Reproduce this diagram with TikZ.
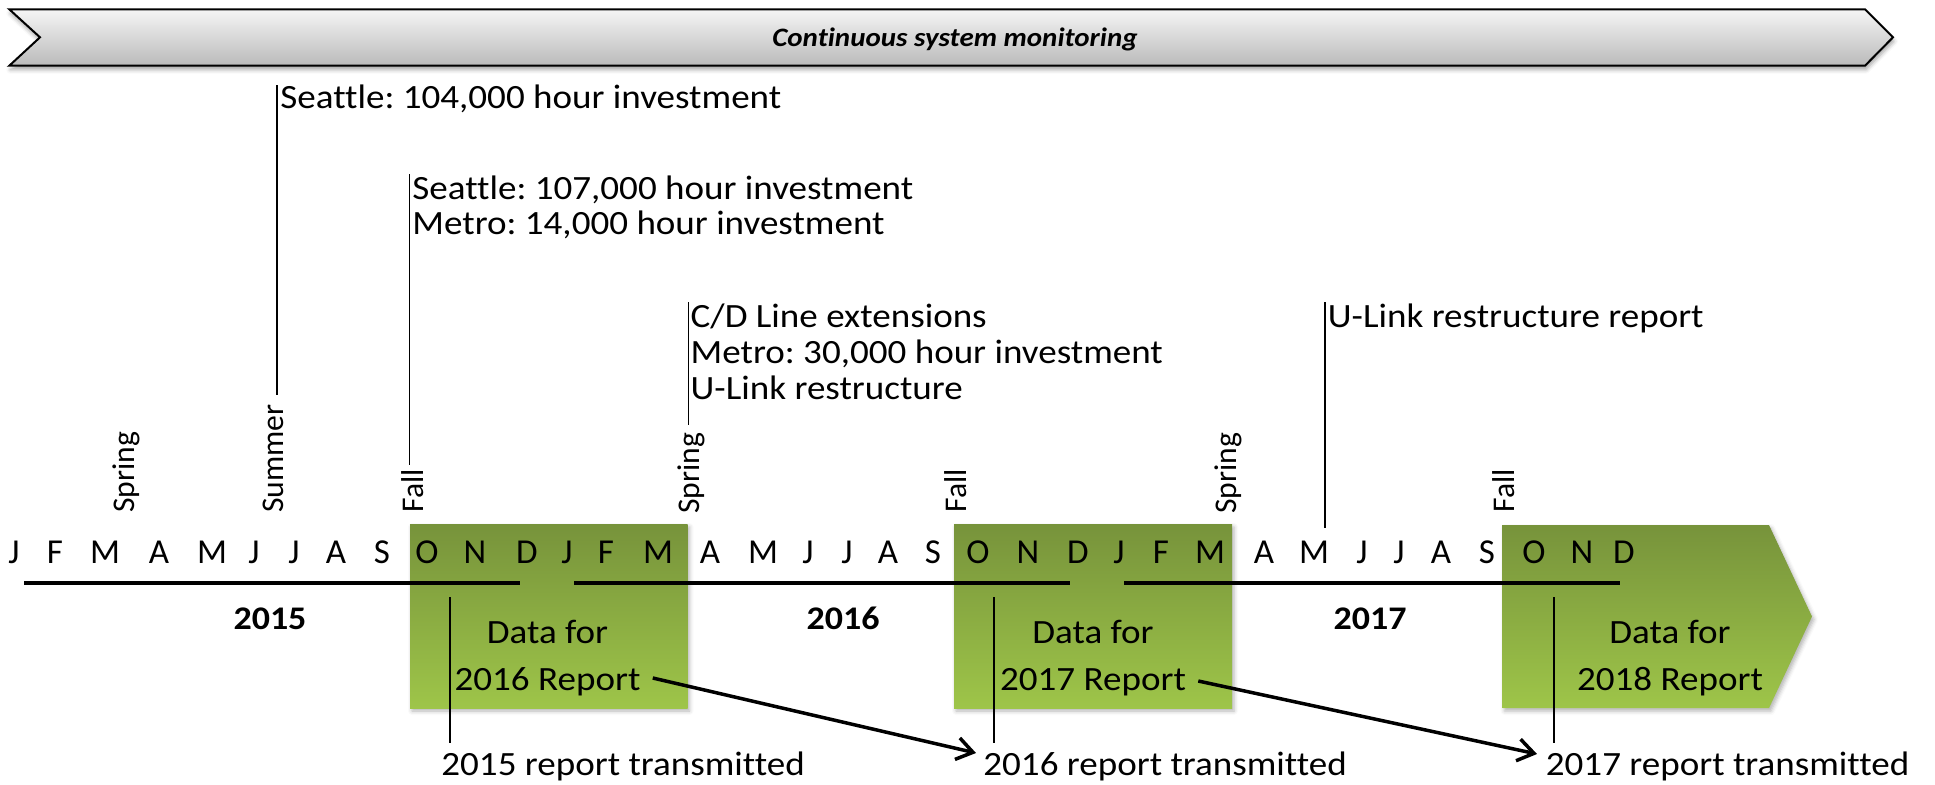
\documentclass[tikz,border=0pt]{standalone}
\usepackage{fontspec}
\setmainfont{Carlito}[FakeStretch=1.09, Ligatures=NoCommon]
\newfontfamily\plainfont{Carlito}[Ligatures=NoCommon]
\usetikzlibrary{arrows.meta,shadows.blur}
\definecolor{boxtop}{RGB}{119,147,59}
\definecolor{boxbot}{RGB}{158,197,73}
\frenchspacing
\begin{document}
\frenchspacing
\begin{tikzpicture}[x=0.5pt,y=-0.5pt,
  txt/.style={inner sep=0pt, anchor=base west, font=\fontsize{17}{17}\selectfont},
  boxtxt/.style={inner sep=0pt, anchor=base, font=\fontsize{17}{17}\selectfont},
  yr/.style={inner sep=0pt, anchor=base, font=\fontsize{16.5}{16.5}\selectfont\bfseries},
  mon/.style={inner sep=0pt, anchor=base, font=\plainfont\fontsize{17.5}{17.5}\selectfont},
  season/.style={inner sep=0pt, rotate=90, anchor=base west, font=\plainfont\fontsize{15.8}{15.8}\selectfont},
  databox/.style={top color=boxtop, bottom color=boxbot,
    blur shadow={shadow xshift=1pt, shadow yshift=-1.5pt, shadow blur radius=2pt, shadow opacity=30}},
  banner/.style={draw=black, line width=1pt, top color=black!4, bottom color=black!27,
    blur shadow={shadow xshift=0.5pt, shadow yshift=-2pt, shadow blur radius=2pt, shadow opacity=35}},
  bar/.style={line width=2pt},
  vline/.style={line width=0.7pt},
  arr/.style={line width=1.75pt, -{Straight Barb[length=8pt,width=11pt]}}]
\useasboundingbox (0,0) rectangle (1935,784);

% banner
\path[banner] (9.3,9.3) -- (1865,9.3) -- (1893,37.3) -- (1865,65.7) -- (9.3,65.7) -- (40,37.3) -- cycle;
\node[inner sep=0pt, anchor=base, font=\fontsize{13.3}{13.3}\selectfont\bfseries\itshape] (title) at (955,46.5) {Continuous system monitoring};

% data boxes
\path[databox] (410,524) rectangle (687.5,708);
\path[databox] (954,524) rectangle (1232,708);
\path[databox] (1502.5,525) -- (1769,525) -- (1812,616.5) -- (1769,708) -- (1502.5,708) -- cycle;

% year bars
\coordinate (b1s) at (24,582.5);   \coordinate (b1e) at (520,582.5);
\coordinate (b2s) at (574,582.5);  \coordinate (b2e) at (1070,582.5);
\coordinate (b3s) at (1124,582.5); \coordinate (b3e) at (1620,582.5);
\draw[bar] (b1s) -- (b1e);
\draw[bar] (b2s) -- (b2e);
\draw[bar] (b3s) -- (b3e);

% months
\foreach \m/\x [count=\i] in {J/14,F/55,M/105,A/159,M/212,J/254,J/294,A/336,S/382,O/427,N/475,D/527,
  J/567,F/606,M/658,A/710,M/763,J/808,J/847,A/888,S/933,O/978,N/1028,D/1078,
  J/1119,F/1161,M/1210,A/1264,M/1314,J/1362,J/1399,A/1441,S/1487,O/1534,N/1582,D/1624}
  \node[mon] (mon\i) at (\x,563) {\m};

% years
\node[yr] (y15) at (270,629) {2015};
\node[yr] (y16) at (843,629) {2016};
\node[yr] (y17) at (1370,629) {2017};

% seasons
\node[season] (sp15) at (134,513) {Spring};
\node[season] (su15) at (283.5,513) {Summer};
\node[season] (fa15) at (423,513) {Fall};
\node[season] (sp16) at (699,514) {Spring};
\node[season] (fa16) at (966,513) {Fall};
\node[season] (sp17) at (1236,514) {Spring};
\node[season] (fa17) at (1514,513) {Fall};

% events
\node[txt] (ev1) at (280,108) {Seattle: 104,000 hour investment};
\node[txt] (ev2a) at (412,199) {Seattle: 107,000 hour investment};
\node[txt] (ev2b) at (412,234) {Metro: 14,000 hour investment};
\node[txt] (ev3a) at (690.3,327) {C/D Line extensions};
\node[txt] (ev3b) at (690.3,363) {Metro: 30,000 hour investment};
\node[txt] (ev3c) at (690.3,399) {U-Link restructure};
\node[txt] (ev4) at (1327.5,327) {U-Link restructure report};

\coordinate (l1t) at (277,85);    \coordinate (l1b) at (277,395);
\coordinate (l2t) at (409.5,174); \coordinate (l2b) at (409.5,465);
\coordinate (l3t) at (688.3,302); \coordinate (l3b) at (688.3,425);
\coordinate (l4t) at (1325,302);  \coordinate (l4b) at (1325,528);
\draw[vline] (l1t) -- (l1b);
\draw[vline] (l2t) -- (l2b);
\draw[vline] (l3t) -- (l3b);
\draw[vline] (l4t) -- (l4b);

% box texts
\node[boxtxt] (d16) at (547.5,643) {Data for};
\node[boxtxt] (rep16) at (547.5,690) {2016 Report};
\node[boxtxt] (d17) at (1093,643) {Data for};
\node[boxtxt] (rep17) at (1093,690) {2017 Report};
\node[boxtxt] (d18) at (1670,643) {Data for};
\node[boxtxt] (rep18) at (1670,690) {2018 Report};

% transmitted
\node[txt] (tx15) at (441,775) {2015 report transmitted};
\node[txt] (tx16) at (983,775) {2016 report transmitted};
\node[txt] (tx17) at (1545.5,775) {2017 report transmitted};
\coordinate (t1t) at (450,597);  \coordinate (t1b) at (450,743);
\coordinate (t2t) at (994,597);  \coordinate (t2b) at (994,743);
\coordinate (t3t) at (1554,597); \coordinate (t3b) at (1554,743);
\draw[vline] (t1t) -- (t1b);
\draw[vline] (t2t) -- (t2b);
\draw[vline] (t3t) -- (t3b);

% arrows
\draw[arr] ([xshift=6pt,yshift=6pt]rep16.base east) -- ([xshift=-3.5pt,yshift=11pt]tx16.base west);
\draw[arr] ([xshift=6pt,yshift=4.5pt]rep17.base east) -- ([xshift=-4.25pt,yshift=10.5pt]tx17.base west);
\end{tikzpicture}
\end{document}
